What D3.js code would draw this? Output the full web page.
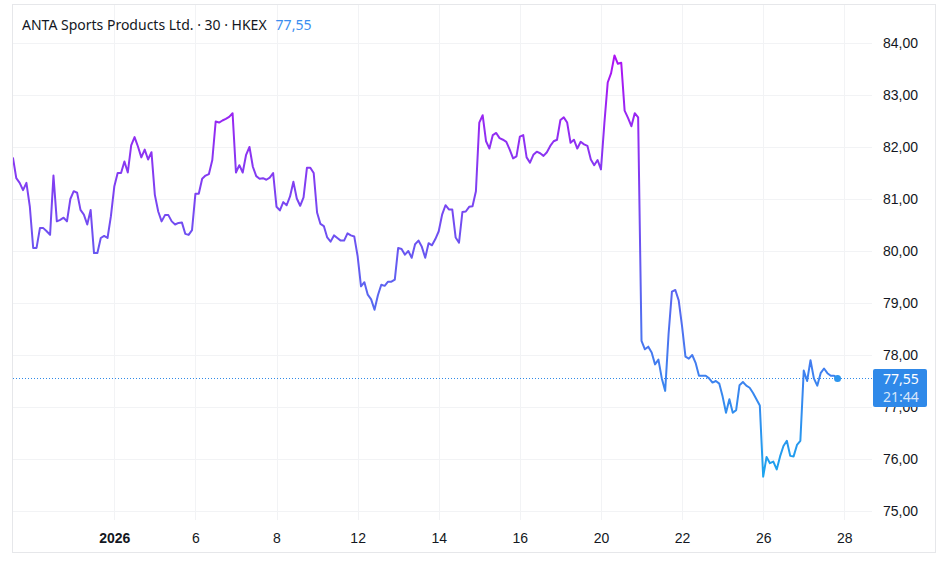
<!DOCTYPE html>
<html lang="en">
<head>
<meta charset="UTF-8">
<title>ANTA Sports Products Ltd. - 30 - HKEX</title>
<script src="https://d3js.org/d3.v7.min.js"></script>
<style>
  body { margin: 0; background: #fff; }
  svg { display: block; font-family: "Noto Sans", sans-serif; }
  .axis text { fill: #131722; font-size: 14px; }
  .axis path, .axis line { display: none; }
</style>
</head>
<body>
<svg width="948" height="568"></svg>
<script>
// 30-minute closes, HKEX (first bar = 29 Dec, last = 27 Jan)
const closes = [
  81.80, 81.40, 81.31, 81.17, 81.31, 80.86, 80.06, 80.06, 80.44, 80.44,
  80.38, 80.31, 81.45, 80.57, 80.60, 80.64, 80.57, 81.00, 81.15, 81.12,
  80.79, 80.70, 80.51, 80.79, 79.96, 79.96, 80.25, 80.29, 80.25, 80.67,
  81.24, 81.50, 81.50, 81.72, 81.51, 82.03, 82.19, 82.01, 81.80, 81.95,
  81.76, 81.90, 81.08, 80.76, 80.57, 80.69, 80.69, 80.57, 80.51, 80.54,
  80.55, 80.33, 80.31, 80.40, 81.10, 81.10, 81.39, 81.45, 81.48, 81.75,
  82.49, 82.47, 82.51, 82.54, 82.58, 82.65, 81.51, 81.65, 81.51, 81.85,
  82.00, 81.62, 81.44, 81.39, 81.40, 81.37, 81.41, 81.50, 80.85, 80.78,
  80.94, 80.88, 81.05, 81.33, 81.01, 80.87, 81.03, 81.60, 81.60, 81.50,
  80.74, 80.52, 80.48, 80.26, 80.18, 80.30, 80.25, 80.20, 80.20, 80.34,
  80.30, 80.28, 79.90, 79.32, 79.40, 79.16, 79.07, 78.87, 79.15, 79.35,
  79.33, 79.41, 79.41, 79.45, 80.06, 80.04, 79.93, 80.00, 79.87, 80.13,
  80.20, 80.08, 79.87, 80.15, 80.11, 80.23, 80.38, 80.70, 80.88, 80.80,
  80.80, 80.26, 80.16, 80.75, 80.76, 80.85, 80.86, 81.15, 82.47, 82.61,
  82.11, 81.97, 82.23, 82.27, 82.17, 82.14, 82.10, 81.95, 81.78, 81.82,
  82.20, 82.23, 81.80, 81.70, 81.85, 81.91, 81.88, 81.83, 81.90, 82.02,
  82.11, 82.14, 82.52, 82.57, 82.47, 82.08, 82.14, 81.97, 82.10, 82.05,
  82.02, 81.76, 81.65, 81.75, 81.57, 82.45, 83.24, 83.42, 83.76, 83.60,
  83.62, 82.70, 82.56, 82.40, 82.65, 82.57, 78.27, 78.11, 78.16, 78.05,
  77.82, 77.91, 77.55, 77.31, 78.40, 79.22, 79.25, 79.05, 78.55, 77.97,
  77.93, 78.00, 77.85, 77.60, 77.60, 77.60, 77.55, 77.47, 77.50, 77.45,
  77.20, 76.89, 77.15, 76.89, 76.94, 77.42, 77.48, 77.41, 77.37, 77.27,
  77.15, 77.03, 75.66, 76.04, 75.92, 75.95, 75.80, 76.05, 76.25, 76.35,
  76.06, 76.05, 76.27, 76.35, 77.70, 77.50, 77.90, 77.55, 77.41, 77.65,
  77.74, 77.65, 77.60, 77.60, 77.55
];

// first bar of each labelled trading day (12 bars per day)
const dayTickBars = [30, 54, 78, 102, 126, 150, 174, 198, 222, 246];
const dayTickLabels = ["2026", "6", "8", "12", "14", "16", "20", "22", "26", "28"];
const priceTicks = [75, 76, 77, 78, 79, 80, 81, 82, 83, 84];

const symbolText = "ANTA Sports Products Ltd. \u00b7 30 \u00b7 HKEX";
const lastPrice = closes[closes.length - 1];
const countdown = "21:44";

const fmt = v => d3.format(".2f")(v).replace(".", ",");

const svg = d3.select("svg");
const plotLeft = 13, plotRight = 872, plotTop = 5, plotBottom = 520;

const x = d3.scaleLinear().domain([0, 246]).range([12.9, 844.3]);
const y = d3.scaleLinear().domain([75, 84]).range([511, 43]);

// outer frame
svg.append("rect")
    .attr("x", 12.5).attr("y", 4.5)
    .attr("width", 923).attr("height", 548)
    .attr("fill", "#fff")
    .attr("stroke", "#e6e7ea");

// grid
svg.append("g").selectAll("line")
    .data(priceTicks)
    .enter().append("line")
    .attr("x1", plotLeft).attr("x2", plotRight)
    .attr("y1", d => Math.round(y(d)) + 0.5).attr("y2", d => Math.round(y(d)) + 0.5)
    .attr("stroke", "#f2f3f5");

svg.append("g").selectAll("line")
    .data(dayTickBars)
    .enter().append("line")
    .attr("x1", d => Math.round(x(d)) + 0.5).attr("x2", d => Math.round(x(d)) + 0.5)
    .attr("y1", plotTop).attr("y2", plotBottom)
    .attr("stroke", "#f2f3f5");

// gradient: purple at the top of the price range, blue at the bottom
const defs = svg.append("defs");
const grad = defs.append("linearGradient")
    .attr("id", "lineGrad")
    .attr("gradientUnits", "userSpaceOnUse")
    .attr("x1", 0).attr("x2", 0)
    .attr("y1", y(d3.max(closes))).attr("y2", y(d3.min(closes)));
grad.append("stop").attr("offset", 0).attr("stop-color", "#ad12f3");
grad.append("stop").attr("offset", 1).attr("stop-color", "#1ba4ee");

defs.append("clipPath").attr("id", "plotClip")
    .append("rect")
    .attr("x", plotLeft).attr("y", plotTop)
    .attr("width", plotRight - plotLeft).attr("height", plotBottom - plotTop);

// last price dotted line
svg.append("line")
    .attr("x1", plotLeft).attr("x2", plotRight)
    .attr("y1", Math.round(y(lastPrice)) + 0.5).attr("y2", Math.round(y(lastPrice)) + 0.5)
    .attr("stroke", "#2f8ae8")
    .attr("stroke-width", 1)
    .attr("stroke-dasharray", "1,2");

const line = d3.line()
    .x((d, i) => x(i))
    .y(d => y(d));

svg.append("path")
    .datum(closes)
    .attr("clip-path", "url(#plotClip)")
    .attr("fill", "none")
    .attr("stroke", "url(#lineGrad)")
    .attr("stroke-width", 2)
    .attr("stroke-linejoin", "round")
    .attr("d", line);

svg.append("circle")
    .attr("cx", x(closes.length - 1))
    .attr("cy", y(lastPrice))
    .attr("r", 3.5)
    .attr("fill", "#2c95ee");

// price axis
svg.append("g")
    .attr("class", "axis")
    .attr("transform", `translate(${plotRight},0)`)
    .call(d3.axisRight(y)
        .tickValues(priceTicks)
        .tickSize(0)
        .tickPadding(11)
        .tickFormat(fmt));

// time axis
svg.append("g")
    .attr("class", "axis")
    .attr("transform", `translate(0,${plotBottom})`)
    .call(d3.axisBottom(x)
        .tickValues(dayTickBars)
        .tickSize(0)
        .tickPadding(13)
        .tickFormat((d, i) => dayTickLabels[i]))
    .selectAll("text")
    .style("font-weight", (d, i) => i === 0 ? "bold" : "normal");

// last price label, drawn over the axis
const boxY = y(lastPrice) - 9.5;
svg.append("rect")
    .attr("x", 873).attr("y", boxY)
    .attr("width", 54).attr("height", 38)
    .attr("rx", 2)
    .attr("fill", "#2f89e9");
svg.append("text")
    .attr("x", 883).attr("y", y(lastPrice))
    .attr("dominant-baseline", "central")
    .attr("fill", "#fff")
    .style("font-size", "14px")
    .text(fmt(lastPrice));
svg.append("text")
    .attr("x", 883).attr("y", y(lastPrice) + 18)
    .attr("dominant-baseline", "central")
    .attr("fill", "rgba(255,255,255,0.82)")
    .style("font-size", "14px")
    .text(countdown);

// legend / title
const title = svg.append("text")
    .attr("x", 22).attr("y", 24)
    .attr("dominant-baseline", "central")
    .style("font-size", "14px")
    .attr("fill", "#131722");
title.append("tspan").text(symbolText);
title.append("tspan").attr("dx", 9).attr("fill", "#3a8ef0").text(fmt(lastPrice));
</script>
</body>
</html>
